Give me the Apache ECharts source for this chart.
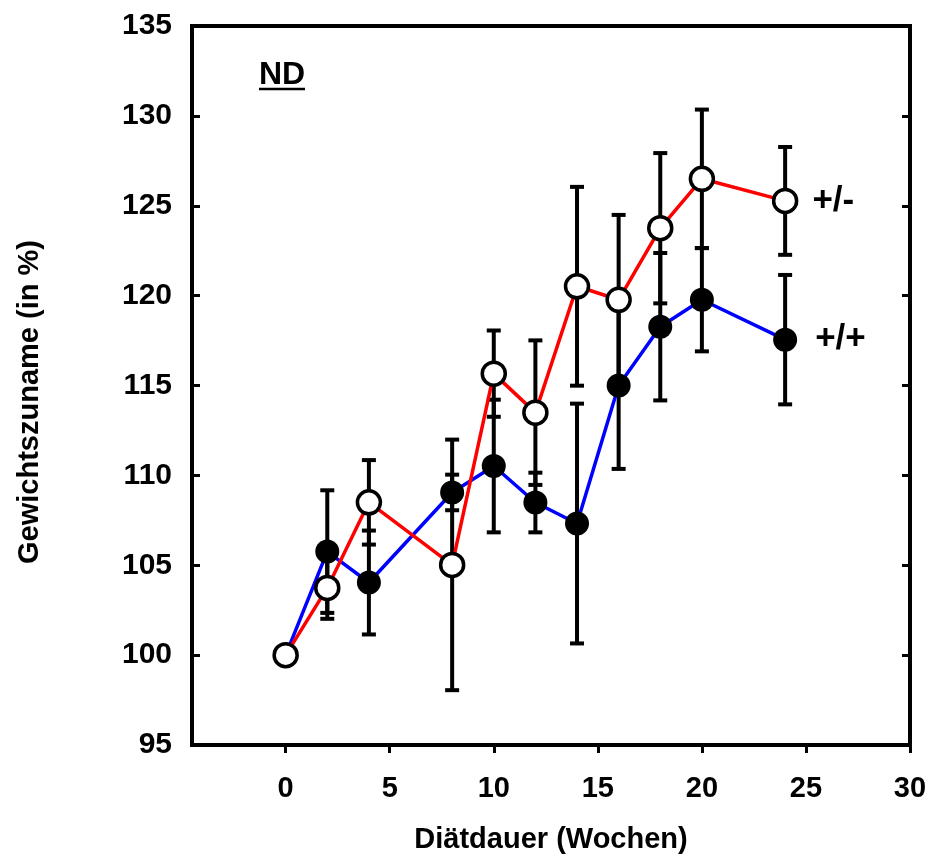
<!DOCTYPE html>
<html>
<head>
<meta charset="utf-8">
<script src="https://cdn.jsdelivr.net/npm/echarts@6/dist/echarts.min.js"></script>
<style>html,body{margin:0;padding:0;background:#fff}#c{width:930px;height:861px}</style>
</head>
<body>
<div id="c"></div>
<script>
// Data
const weeks = [0, 2, 4, 8, 10, 12, 14, 16, 18, 20, 24];
const wtMean = [100, 105.76, 104.04, 109.05, 110.52, 108.49, 107.32, 115.0, 118.27, 119.77, 117.55];
const wtErr  = [0, 3.41, 2.89, 0.99, 3.69, 1.66, 6.67, 4.64, 4.1, 2.87, 3.6];
const hetMean = [100, 103.74, 108.5, 105.02, 115.66, 113.49, 120.52, 119.77, 123.75, 126.5, 125.27];
const hetErr  = [0, 1.72, 2.35, 6.97, 2.4, 4.02, 5.53, 4.72, 4.18, 3.85, 3.0];
const xTicks = [0, 5, 10, 15, 20, 25, 30];
const wtName = '+/+';
const hetName = '+/-';
const panelLabel = 'ND';
const xTitle = 'Diätdauer (Wochen)';
const yTitle = 'Gewichtszuname (in %)';

const FONT = 'Liberation Sans, Arial, sans-serif';

function errData(mean, err) {
  const out = [];
  for (let i = 0; i < weeks.length; i++) {
    if (err[i] > 0) out.push([weeks[i], mean[i] - err[i], mean[i] + err[i]]);
  }
  return out;
}
function errRender(params, api) {
  const x = api.value(0), lo = api.value(1), hi = api.value(2);
  const a = api.coord([x, lo]), b = api.coord([x, hi]);
  const hw = 7;
  const st = {stroke: '#000', lineWidth: 4};
  return {type: 'group', children: [
    {type: 'line', shape: {x1: a[0], y1: a[1], x2: b[0], y2: b[1]}, style: st},
    {type: 'line', shape: {x1: a[0] - hw, y1: a[1], x2: a[0] + hw, y2: a[1]}, style: st},
    {type: 'line', shape: {x1: b[0] - hw, y1: b[1], x2: b[0] + hw, y2: b[1]}, style: st}
  ]};
}
function lineData(mean, name, dist) {
  return weeks.map((w, i) => {
    const d = {value: [w, mean[i]]};
    if (i === weeks.length - 1) {
      d.label = {show: true, position: 'right', distance: dist, formatter: name,
        fontFamily: FONT, fontWeight: 'bold', fontSize: 35, color: '#000'};
    }
    return d;
  });
}

const chart = echarts.init(document.getElementById('c'), null, {renderer: 'canvas'});
chart.setOption({
  animation: false,
  backgroundColor: '#fff',
  grid: {left: 192, top: 26, right: 20, bottom: 116, show: true, borderColor: '#000', borderWidth: 4, backgroundColor: 'transparent'},
  xAxis: {
    type: 'value', min: -4.5, max: 30,
    axisLine: {show: true, onZero: false, lineStyle: {color: '#000', width: 4}},
    axisTick: {show: true, inside: false, length: 8, lineStyle: {color: '#000', width: 3}, customValues: xTicks},
    axisLabel: {show: true, customValues: xTicks, margin: 29, fontFamily: FONT, fontWeight: 'bold', fontSize: 29, color: '#000'},
    splitLine: {show: false},
    name: xTitle, nameLocation: 'middle', nameGap: 80,
    nameTextStyle: {fontFamily: FONT, fontWeight: 'bold', fontSize: 29, color: '#000'}
  },
  yAxis: [{
    type: 'value', min: 95, max: 135, interval: 5,
    axisLine: {show: true, onZero: false, lineStyle: {color: '#000', width: 4}},
    axisTick: {show: true, inside: true, length: 8, lineStyle: {color: '#000', width: 3}},
    axisLabel: {margin: 20, fontFamily: FONT, fontWeight: 'bold', fontSize: 30, color: '#000'},
    splitLine: {show: false}
  }, {
    type: 'value', min: 95, max: 135, interval: 5, position: 'right',
    axisLine: {show: false, onZero: false},
    axisTick: {show: true, inside: true, length: 8, lineStyle: {color: '#000', width: 3}},
    axisLabel: {show: false},
    splitLine: {show: false}
  }],
  graphic: [
    {type: 'text', x: 30, y: 402, rotation: Math.PI / 2,
     style: {text: yTitle, fontFamily: FONT, fontWeight: 'bold', fontSize: 29, fill: '#000', align: 'center', verticalAlign: 'middle'}},
    {type: 'text', x: 259, y: 75,
     style: {text: panelLabel, fontFamily: FONT, fontWeight: 'bold', fontSize: 32, fill: '#000', align: 'left', verticalAlign: 'middle'}},
    {type: 'line', shape: {x1: 259, y1: 89, x2: 305, y2: 89}, style: {stroke: '#000', lineWidth: 2.5}}
  ],
  series: [
    {type: 'custom', name: 'wtErr', renderItem: errRender, data: errData(wtMean, wtErr), encode: {x: 0, y: [1, 2]}, z: 1, silent: true},
    {type: 'custom', name: 'hetErr', renderItem: errRender, data: errData(hetMean, hetErr), encode: {x: 0, y: [1, 2]}, z: 1, silent: true},
    {type: 'line', name: wtName, data: lineData(wtMean, wtName, 18), z: 2,
     lineStyle: {color: '#0000ff', width: 3.5}, symbol: 'circle', symbolSize: 24, showSymbol: true,
     itemStyle: {color: '#000', borderColor: '#000', borderWidth: 0}},
    {type: 'line', name: hetName, data: lineData(hetMean, hetName, 14), z: 3,
     lineStyle: {color: '#ff0000', width: 3.5}, symbol: 'circle', symbolSize: 23, showSymbol: true,
     itemStyle: {color: '#fff', borderColor: '#000', borderWidth: 3.5}}
  ]
});
</script>
</body>
</html>
